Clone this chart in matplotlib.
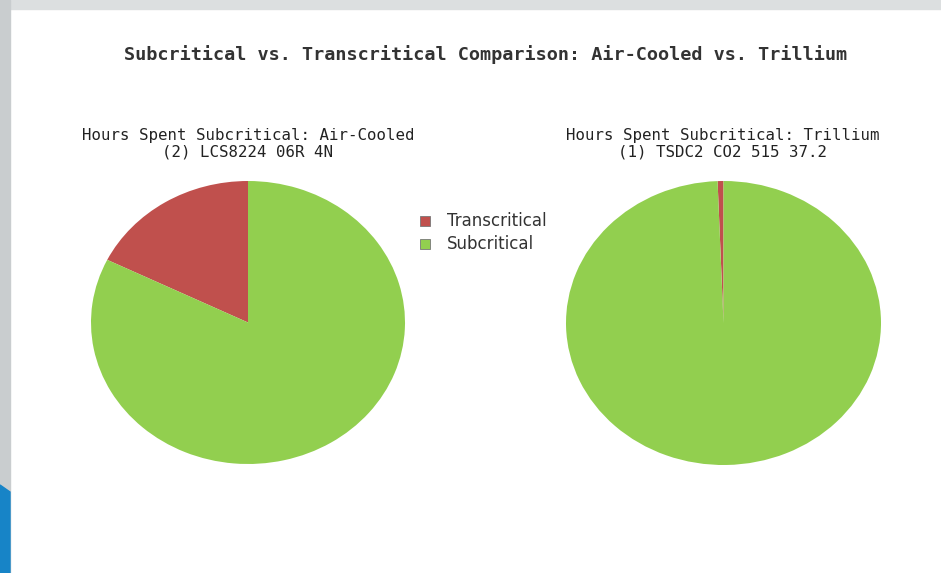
import matplotlib.pyplot as plt
from matplotlib.patches import Rectangle, Polygon

# Share of hours (%)
labels = ['Transcritical', 'Subcritical']
air_cooled = [17.7, 82.3]
trillium = [0.6, 99.4]
colors = ['#c0504d', '#92cf4f']

title = 'Subcritical vs. Transcritical Comparison: Air-Cooled vs. Trillium'
left_title = 'Hours Spent Subcritical: Air-Cooled\n(2) LCS8224 06R 4N'
right_title = 'Hours Spent Subcritical: Trillium\n(1) TSDC2 CO2 515 37.2'

W, H = 941, 573
fig = plt.figure(figsize=(W / 100, H / 100), dpi=100)
fig.patch.set_facecolor('white')

# screenshot frame: grey strips + blue corner
fig.patches.append(Rectangle((0, 1 - 9 / H), 1, 9 / H, transform=fig.transFigure,
                             color='#dcdfe0', zorder=0))
fig.patches.append(Rectangle((0, 0), 10 / W, 1, transform=fig.transFigure,
                             color='#c9cdcf', zorder=0))
fig.patches.append(Polygon([(0, 0), (10 / W, 0), (10 / W, 1 - 492 / H), (0, 1 - 485 / H)],
                           closed=True, transform=fig.transFigure, color='#1784c7', zorder=1))

def px_axes(x0, y0, x1, y1):
    # axes from pixel box (top-left origin)
    return fig.add_axes([x0 / W, 1 - y1 / H, (x1 - x0) / W, (y1 - y0) / H])

mono = 'DejaVu Sans Mono'

for box, vals, sub, cx in [((91, 181, 405, 464), air_cooled, left_title, 248),
                           ((566, 181, 881, 465), trillium, right_title, 723)]:
    ax = px_axes(*box)
    wedges, _ = ax.pie(vals, colors=colors, startangle=90, counterclock=True,
                       wedgeprops=dict(linewidth=0))
    ax.set_aspect('auto')
    ax.set_xlim(-1, 1)
    ax.set_ylim(-1, 1)
    ax.axis('off')
    fig.text(cx / W, 1 - 143.5 / H, sub, ha='center', va='center', family=mono,
             fontsize=11.3, color='#222222', linespacing=1.1)

fig.text(485.5 / W, 1 - 55 / H, title, ha='center', va='center', family=mono,
         fontsize=13.3, fontweight='bold', color='#333333')

# legend
for i, (lab, col) in enumerate(zip(labels, colors)):
    y = 221 + i * 23
    fig.patches.append(Rectangle((420 / W, 1 - (y + 5) / H), 10 / W, 10 / H,
                                 transform=fig.transFigure, facecolor=col,
                                 edgecolor='#777777', linewidth=0.6))
    fig.text(447 / W, 1 - y / H, lab, ha='left', va='center', family='DejaVu Sans',
             fontsize=12, color='#333333')

fig.savefig('out.png', dpi=100, facecolor=fig.get_facecolor())
